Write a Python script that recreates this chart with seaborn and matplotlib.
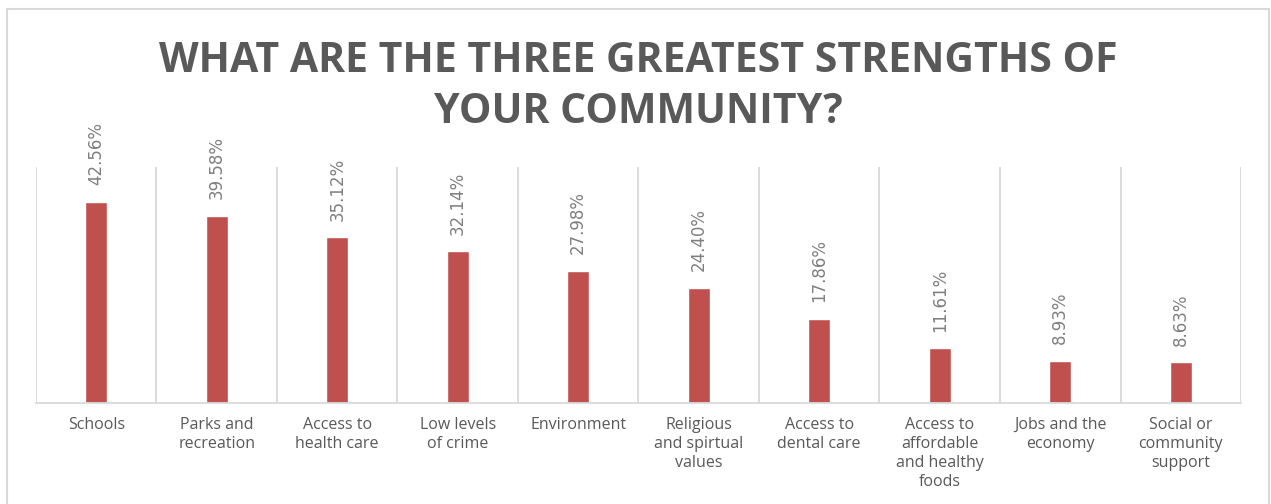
import matplotlib
matplotlib.use("Agg")
import matplotlib.pyplot as plt
from matplotlib.patches import Rectangle
import numpy as np
import pandas as pd
import seaborn as sns

# Survey results: share of respondents naming each item among the top three strengths
categories = [
    "Schools",
    "Parks and\nrecreation",
    "Access to\nhealth care",
    "Low levels\nof crime",
    "Environment",
    "Religious\nand spirtual\nvalues",
    "Access to\ndental care",
    "Access to\naffordable\nand healthy\nfoods",
    "Jobs and the\neconomy",
    "Social or\ncommunity\nsupport",
]
percentages = [42.56, 39.58, 35.12, 32.14, 27.98, 24.40, 17.86, 11.61, 8.93, 8.63]
title_text = "WHAT ARE THE THREE GREATEST STRENGTHS OF\nYOUR COMMUNITY?"

BAR_COLOR = "#C0504D"
GRID_COLOR = "#D9D9D9"
TEXT_DARK = "#595959"
LABEL_GRAY = "#7F7F7F"

sns.set_theme(style="white")
plt.rcParams["font.family"] = ["Open Sans", "DejaVu Sans"]

df = pd.DataFrame({"category": categories, "pct": percentages})

fig = plt.figure(figsize=(12.71, 5.04), dpi=100)
ax = fig.add_axes([0.0283, 0.2004, 0.9481, 0.4683])

sns.barplot(data=df, x="category", y="pct", color=BAR_COLOR, width=0.185,
            saturation=1, ax=ax)

ax.set_xlim(-0.5, len(categories) - 0.5)
ax.set_ylim(0, 50)

# vertical separators between categories
ax.set_xticks(np.arange(-0.5, len(categories)), minor=True)
ax.grid(which="minor", axis="x", color=GRID_COLOR, linewidth=1.3)
ax.tick_params(which="both", length=0)
ax.set_yticks([])
ax.set_xlabel("")
ax.set_ylabel("")
for side in ["top", "left", "right"]:
    ax.spines[side].set_visible(False)
ax.spines["bottom"].set_color(GRID_COLOR)
ax.spines["bottom"].set_linewidth(1.3)

ax.set_xticks(range(len(categories)))
ax.set_xticklabels(categories, fontsize=11.5, color=TEXT_DARK,
                   linespacing=1.25, ha="center", va="top")
ax.tick_params(axis="x", pad=10)

# rotated value labels above each bar
for i, v in enumerate(percentages):
    ax.annotate(f"{v:.2f}%", xy=(i, v), xytext=(0, 12), textcoords="offset points",
                rotation=90, ha="center", va="bottom", fontsize=12, color=LABEL_GRAY,
                family="DejaVu Sans")

fig.text(0.502, 0.919, title_text, ha="center", va="top", fontsize=29.5,
         fontweight="bold", color=TEXT_DARK, linespacing=1.33)

# light frame around the chart area
fig.patches.append(Rectangle((7 / 1271, -0.05), (1269 - 7) / 1271, (504 - 9) / 504 + 0.05,
                             transform=fig.transFigure, fill=False,
                             edgecolor=GRID_COLOR, linewidth=1.5))

fig.savefig("out.png", dpi=100)
